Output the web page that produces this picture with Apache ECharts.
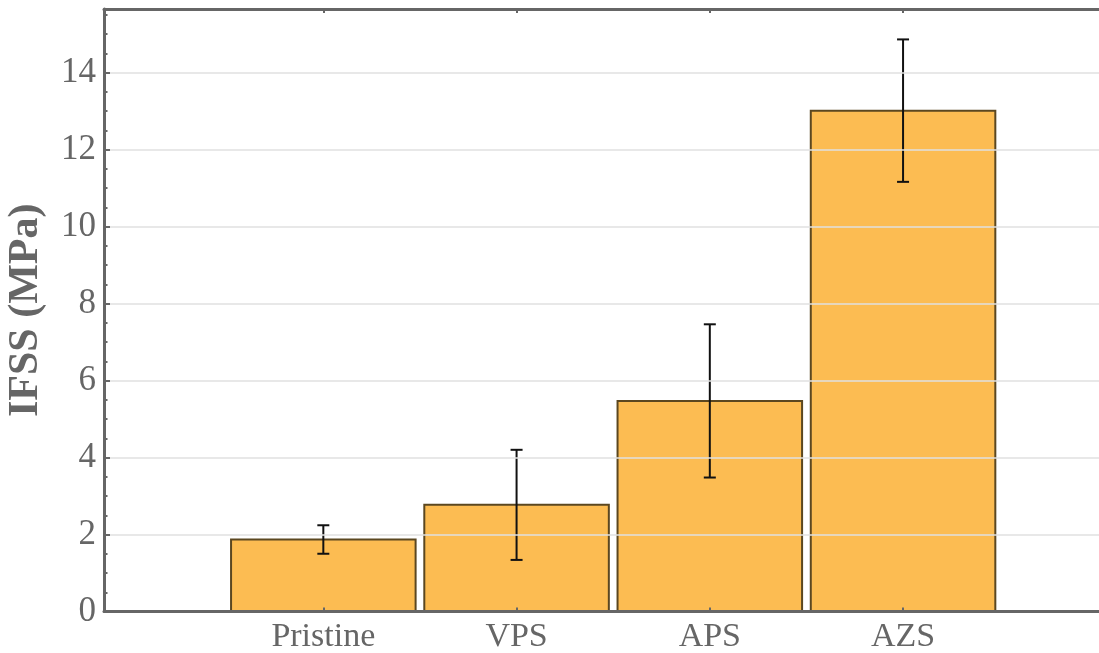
<!DOCTYPE html>
<html>
<head>
<meta charset="utf-8">
<style>html,body{margin:0;padding:0;background:#fff}#c{width:1099px;height:653px}</style>
<script src="https://cdn.jsdelivr.net/npm/echarts@6/dist/echarts.min.js"></script>
</head>
<body>
<div id="c"></div>
<script>
const categories = ['Pristine', 'VPS', 'APS', 'AZS'];
const positions = [1, 2, 3, 4];
const means = [1.87, 2.77, 5.47, 13.01];
const sds = [0.37, 1.43, 1.99, 1.85];
const yMajorTicks = [0, 2, 4, 6, 8, 10, 12, 14];

const chart = echarts.init(document.getElementById('c'), null, {renderer: 'canvas'});
const AX = '#666666';
const FONT = '"Liberation Serif", "DejaVu Serif", serif';
const barData = positions.map((p, i) => [p, means[i], sds[i]]);
const HALF = 0.4775;

chart.setOption({
  animation: false,
  backgroundColor: '#ffffff',
  grid: {left: 104, right: 0, top: 9, bottom: 41.5, containLabel: false, outerBoundsMode: 'none'},
  xAxis: [{
    type: 'value', min: -0.135, max: 5.014, position: 'bottom', z: 5,
    axisLine: {show: true, onZero: false, lineStyle: {color: AX, width: 3}},
    axisTick: {show: true, inside: true, length: 4, customValues: positions, lineStyle: {color: AX, width: 2}},
    axisLabel: {show: true, customValues: positions, margin: 9, color: AX, fontFamily: FONT, fontSize: 34,
      formatter: v => categories[positions.indexOf(Math.round(v))] || ''},
    splitLine: {show: false}
  }, {
    type: 'value', min: -0.135, max: 5.014, position: 'top', z: 5,
    axisLine: {show: true, onZero: false, lineStyle: {color: AX, width: 3}},
    axisTick: {show: true, inside: true, length: 4, customValues: positions, lineStyle: {color: AX, width: 2}},
    axisLabel: {show: false},
    splitLine: {show: false}
  }],
  yAxis: [{
    type: 'value', min: 0, max: 15.65, interval: 2, position: 'left', z: 5,
    name: 'IFSS (MPa)', nameLocation: 'middle', nameGap: 57,
    nameTextStyle: {color: AX, fontFamily: FONT, fontSize: 42, fontWeight: 'bold'},
    axisLine: {show: true, onZero: false, lineStyle: {color: AX, width: 3}},
    axisTick: {show: true, inside: true, length: 6, customValues: yMajorTicks, lineStyle: {color: AX, width: 2}},
    axisLabel: {show: true, customValues: yMajorTicks, margin: 8, color: AX, fontFamily: FONT, fontSize: 35},
    splitLine: {show: true, lineStyle: {color: '#e0e0e0', width: 1.5}}
  }, {
    type: 'value', min: 0, max: 15.65, interval: 0.5, position: 'left', z: 5,
    axisLine: {show: false, onZero: false},
    axisTick: {show: true, inside: true, length: 3.5, lineStyle: {color: AX, width: 2}},
    axisLabel: {show: false},
    splitLine: {show: false}
  }],
  series: [{
    type: 'custom', xAxisIndex: 0, yAxisIndex: 0, z: 2,
    data: barData,
    renderItem: function (params, api) {
      const x = api.value(0), y = api.value(1), sd = api.value(2);
      const p0 = api.coord([x - HALF, 0]);
      const p1 = api.coord([x + HALF, y]);
      const top = api.coord([x, y + sd]);
      const bot = api.coord([x, y - sd]);
      const cap = 6;
      return {
        type: 'group',
        children: [{
          type: 'rect',
          shape: {x: p0[0], y: p1[1], width: p1[0] - p0[0], height: p0[1] - p1[1]},
          style: {fill: '#FCBC52', stroke: '#5b4720', lineWidth: 2}
        }, {
          type: 'line', shape: {x1: top[0], y1: top[1], x2: bot[0], y2: bot[1]},
          style: {stroke: '#111111', lineWidth: 2}
        }, {
          type: 'line', shape: {x1: top[0] - cap, y1: top[1], x2: top[0] + cap, y2: top[1]},
          style: {stroke: '#111111', lineWidth: 2}
        }, {
          type: 'line', shape: {x1: bot[0] - cap, y1: bot[1], x2: bot[0] + cap, y2: bot[1]},
          style: {stroke: '#111111', lineWidth: 2}
        }]
      };
    }
  }]
});
</script>
</body>
</html>
